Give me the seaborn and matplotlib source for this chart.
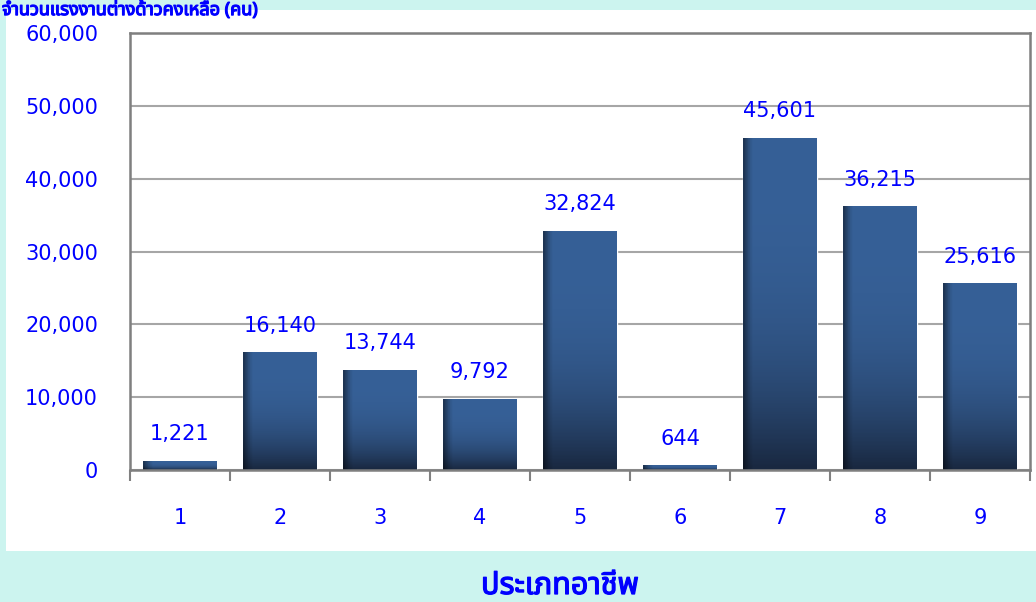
import numpy as np
import pandas as pd
import matplotlib.pyplot as plt
import seaborn as sns
import matplotlib.patheffects as pe
from matplotlib.patches import Rectangle

categories = ["1", "2", "3", "4", "5", "6", "7", "8", "9"]
values = [1221, 16140, 13744, 9792, 32824, 644, 45601, 36215, 25616]
y_ticks = [0, 10000, 20000, 30000, 40000, 50000, 60000]
x_title = "ประเภทอาชีพ"
top_title = "จำนวนแรงงานต่างด้าวคงเหลือ (คน)"

df = pd.DataFrame({"type": categories, "count": values})

sns.set_style("white")
plt.rcParams["font.family"] = ["Noto Sans Thai", "Noto Sans", "DejaVu Sans"]
num_font = "DejaVu Sans"

blue = "#0000FF"
bold = [pe.withStroke(linewidth=0.9, foreground=blue)]
fig = plt.figure(figsize=(10.36, 6.02), dpi=100)
fig.patch.set_facecolor("#CCF4EF")
fig.patches.append(Rectangle((6 / 1036, 1 - 551 / 602), 1030 / 1036, 541 / 602,
                             transform=fig.transFigure, facecolor="white",
                             edgecolor="none", zorder=-5))

ax = fig.add_axes([130 / 1036, 1 - 470 / 602, 900 / 1036, 437 / 602])
ax.set_zorder(2)
ax.set_facecolor("white")
sns.barplot(data=df, x="type", y="count", color="#2F5A8F", width=0.74,
            saturation=1, ax=ax, zorder=2)

# gradient fill on each bar
top = np.array([0x36, 0x60, 0x97]) / 255
bot = np.array([0x19, 0x28, 0x40]) / 255
v = np.linspace(0, 1, 64)[:, None, None]
h = np.linspace(0, 1, 32)[None, :, None]
img = bot + (top - bot) * (1 - (1 - v) ** 3)
shade = np.clip(0.55 + h * 4, 0, 1)
img = img * shade
for p in ax.patches:
    x0, y0, w, hh = p.get_x(), p.get_y(), p.get_width(), p.get_height()
    im = ax.imshow(img, extent=(x0, x0 + w, y0, y0 + hh), origin="lower",
                   aspect="auto", zorder=2.5)
    im.set_clip_path(p)

ax.bar_label(ax.containers[0], labels=[f"{v:,}" for v in values],
             padding=12, color=blue, fontsize=15, family=num_font)

ax.set_ylim(0, 60000)
ax.set_xlim(-0.5, len(categories) - 0.5)
ax.set_yticks(y_ticks)
ax.set_yticklabels([f"{t:,}" for t in y_ticks], color=blue, fontsize=15,
                   family=num_font)
ax.tick_params(axis="y", length=0, pad=23)
ax.yaxis.grid(True, color="#A6A6A6", linewidth=1.5, zorder=0)
ax.set_axisbelow(True)

ax.set_xticks(np.arange(-0.5, len(categories), 1))
ax.set_xticklabels([])
ax.set_xticks(range(len(categories)), minor=True)
ax.set_xticklabels(categories, minor=True, color=blue, fontsize=15,
                   family=num_font)
ax.tick_params(axis="x", which="major", length=8, width=1.5, color="#808080",
               direction="out", bottom=True)
ax.tick_params(axis="x", which="minor", length=0, pad=27)
ax.set_xlabel("")
ax.set_ylabel("")

for s in ax.spines.values():
    s.set_color("#7F7F7F")
    s.set_linewidth(1.8)
    s.set_visible(True)

fig.text(560 / 1036, 1 - 586 / 602, x_title, ha="center", va="center",
         color=blue, fontsize=22, fontweight="bold", path_effects=bold)
fig.text(2 / 1036, 1 - 1 / 602, top_title, ha="left", va="top",
         color=blue, fontsize=13, fontweight="bold", path_effects=bold,
         zorder=5)

fig.savefig("out.png", dpi=100, facecolor=fig.get_facecolor())
